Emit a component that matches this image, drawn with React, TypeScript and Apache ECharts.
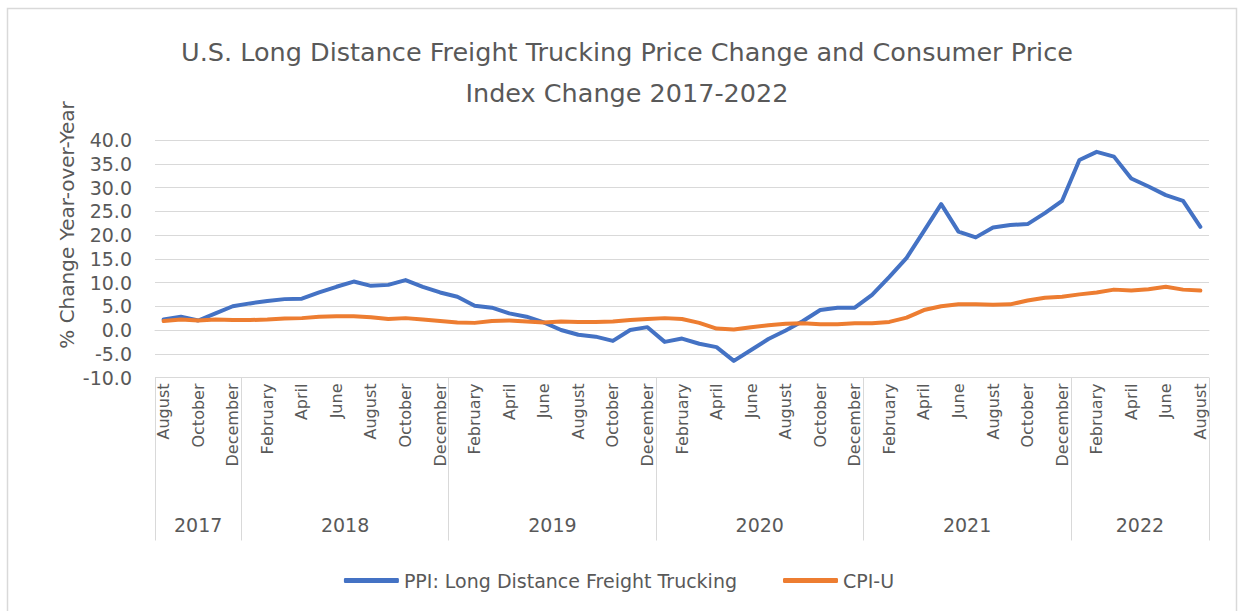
import React, { useEffect, useRef } from "react";
import * as echarts from "echarts";

const monthNames = ["January","February","March","April","May","June","July","August","September","October","November","December"];
const years = [2017, 2018, 2019, 2020, 2021, 2022];
const yearStartMonth = [7, 0, 0, 0, 0, 0];
const yearEndMonth = [11, 11, 11, 11, 11, 7];

const ppi = [
  2.2, 2.8, 2.0, 3.5, 5.0,
  5.6, 6.1, 6.5, 6.6, 7.9, 9.1, 10.2, 9.3, 9.5, 10.5, 9.1, 7.9,
  7.0, 5.1, 4.7, 3.5, 2.8, 1.6, 0.0, -1.0, -1.4, -2.3, 0.0, 0.6,
  -2.5, -1.8, -2.9, -3.6, -6.5, -4.2, -1.9, -0.1, 1.9, 4.2, 4.7, 4.7,
  7.4, 11.2, 15.2, 20.8, 26.5, 20.7, 19.5, 21.6, 22.1, 22.3, 24.6, 27.2,
  35.8, 37.5, 36.5, 31.9, 30.2, 28.4, 27.2, 21.7,
];
const cpi = [
  1.9, 2.2, 2.0, 2.2, 2.1,
  2.1, 2.2, 2.4, 2.5, 2.8, 2.9, 2.9, 2.7, 2.3, 2.5, 2.2, 1.9,
  1.6, 1.5, 1.9, 2.0, 1.8, 1.6, 1.8, 1.7, 1.7, 1.8, 2.1, 2.3,
  2.5, 2.3, 1.5, 0.3, 0.1, 0.6, 1.0, 1.3, 1.4, 1.2, 1.2, 1.4,
  1.4, 1.7, 2.6, 4.2, 5.0, 5.4, 5.4, 5.3, 5.4, 6.2, 6.8, 7.0,
  7.5, 7.9, 8.5, 8.3, 8.6, 9.1, 8.5, 8.3,
];

const FONT = "DejaVu Sans";
const TXT = "#595959";
const GRID = "#d9d9d9";

export default function App() {
  const ref = useRef<HTMLDivElement>(null);
  useEffect(() => {
    if (!ref.current) return;
    const chart = echarts.init(ref.current, null, { renderer: "svg" });

    const categories: string[] = [];
    const boundaries: number[] = [0];
    const yearCenters: number[] = [];
    let idx = 0;
    years.forEach((y, k) => {
      const start = idx;
      for (let m = yearStartMonth[k]; m <= yearEndMonth[k]; m++) {
        categories.push(monthNames[m]);
        idx++;
      }
      boundaries.push(idx);
      yearCenters.push((start + idx) / 2);
    });
    const total = categories.length;

    chart.setOption({
      animation: false,
      title: {
        text: "U.S. Long Distance Freight Trucking Price Change and Consumer Price\nIndex Change 2017-2022",
        left: 622,
        top: 26,
        textAlign: "center",
        textStyle: { fontFamily: FONT, fontSize: 25.5, fontWeight: "normal", color: TXT, lineHeight: 41 },
      },
      graphic: [
        {
          type: "rect",
          shape: { x: 7.5, y: 8.5, width: 1229, height: 606 },
          style: { fill: "none", stroke: GRID, lineWidth: 1.5 },
          silent: true,
        },
        {
          type: "text",
          x: 67,
          y: 225,
          rotation: Math.PI / 2,
          style: {
            text: "% Change Year-over-Year",
            fontFamily: FONT,
            fontSize: 20,
            fill: TXT,
            align: "center",
            verticalAlign: "middle",
          },
        },
      ],
      legend: {
        top: 566,
        left: "center",
        itemWidth: 55,
        itemHeight: 5,
        itemGap: 46,
        icon: "roundRect",
        textStyle: { fontFamily: FONT, fontSize: 19, color: TXT },
        data: ["PPI: Long Distance Freight Trucking", "CPI-U"],
      },
      grid: { left: 155, top: 140, width: 1054, height: 237.5 },
      xAxis: [
        {
          type: "category",
          data: categories,
          boundaryGap: true,
          axisLine: { show: true, lineStyle: { color: GRID, width: 1 } },
          axisTick: { show: false },
          axisLabel: {
            interval: 1,
            rotate: 90,
            margin: 6,
            fontFamily: FONT,
            fontSize: 16,
            color: TXT,
          },
          splitLine: { show: false },
        },
        {
          type: "value",
          min: 0,
          max: total,
          position: "bottom",
          axisLine: { show: false },
          splitLine: { show: false },
          axisTick: {
            show: true,
            customValues: boundaries,
            length: 163,
            inside: false,
            lineStyle: { color: GRID, width: 1 },
          },
          axisLabel: {
            show: true,
            customValues: yearCenters,
            margin: 138,
            fontFamily: FONT,
            fontSize: 19,
            color: TXT,
            formatter: (v: number) => {
              const k = yearCenters.findIndex((c) => Math.abs(c - v) < 1e-6);
              return k >= 0 ? String(years[k]) : "";
            },
          },
        },
      ],
      yAxis: {
        type: "value",
        min: -10,
        max: 40,
        interval: 5,
        axisLine: { show: false },
        axisTick: { show: false },
        splitLine: { show: true, lineStyle: { color: GRID, width: 1 } },
        axisLabel: {
          fontFamily: FONT,
          fontSize: 19,
          color: TXT,
          margin: 23,
          formatter: (v: number) => v.toFixed(1),
        },
      },
      series: [
        {
          name: "PPI: Long Distance Freight Trucking",
          type: "line",
          xAxisIndex: 0,
          data: ppi,
          showSymbol: false,
          symbol: "none",
          lineStyle: { color: "#4472C4", width: 4, cap: "round", join: "round" },
          itemStyle: { color: "#4472C4" },
        },
        {
          name: "CPI-U",
          type: "line",
          xAxisIndex: 0,
          data: cpi,
          showSymbol: false,
          symbol: "none",
          lineStyle: { color: "#ED7D31", width: 4, cap: "round", join: "round" },
          itemStyle: { color: "#ED7D31" },
        },
      ],
    });
    return () => chart.dispose();
  }, []);

  return (
    <div
      ref={ref}
      style={{ position: "fixed", left: 0, top: 0, width: 1238, height: 611, background: "#fff" }}
    />
  );
}
